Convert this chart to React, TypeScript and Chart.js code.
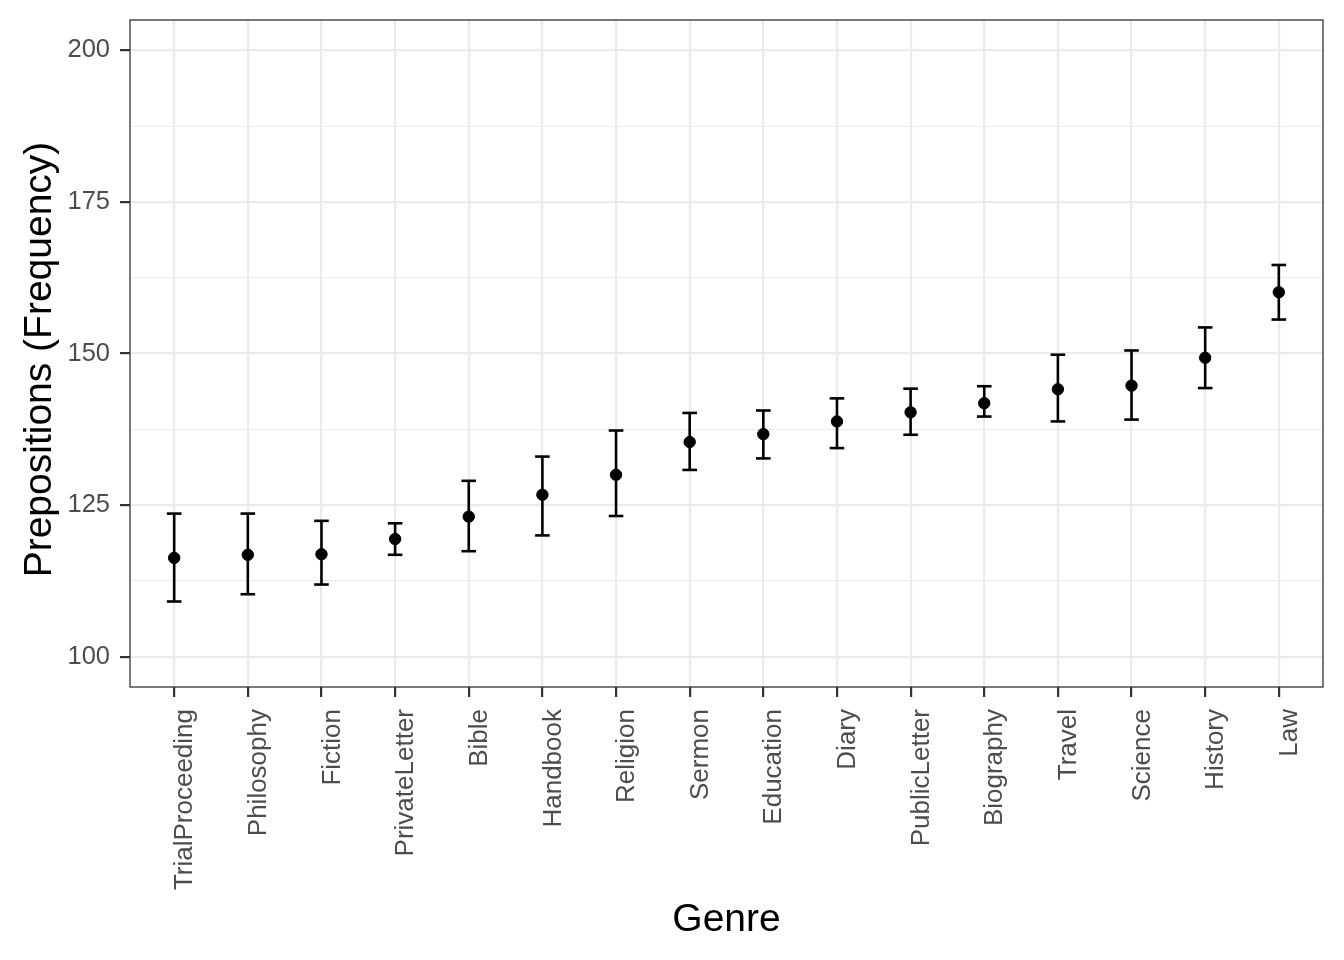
import { useEffect, useRef } from 'react';
import { Chart, registerables } from 'chart.js';

Chart.register(...registerables);

const genres = [
  'TrialProceeding', 'Philosophy', 'Fiction', 'PrivateLetter', 'Bible', 'Handbook',
  'Religion', 'Sermon', 'Education', 'Diary', 'PublicLetter', 'Biography',
  'Travel', 'Science', 'History', 'Law',
];
const means = [116.3, 116.8, 116.9, 119.4, 123.1, 126.7, 130.0, 135.4, 136.7, 138.8, 140.3, 141.8, 144.1, 144.7, 149.3, 160.1];
const lower = [109.1, 110.3, 111.9, 116.8, 117.4, 120.0, 123.2, 130.8, 132.7, 134.4, 136.6, 139.6, 138.8, 139.1, 144.3, 155.6];
const upper = [123.6, 123.6, 122.4, 122.0, 129.0, 133.0, 137.3, 140.2, 140.6, 142.6, 144.2, 144.6, 149.8, 150.5, 154.3, 164.6];
const yMajorTicks = [100, 125, 150, 175, 200];
const yMinorTicks = [112.5, 137.5, 162.5, 187.5];
const xTitle = 'Genre';
const yTitle = 'Prepositions (Frequency)';

const FONT = '"Liberation Sans", Arial, Helvetica, sans-serif';

export default function App() {
  const ref = useRef<HTMLCanvasElement | null>(null);

  useEffect(() => {
    document.body.style.margin = '0';
    const canvas = ref.current;
    if (!canvas) return;

    const isMinor = (v: number) => yMinorTicks.includes(v);

    const errData: { x: number; y: number }[] = [];
    genres.forEach((_, i) => {
      errData.push({ x: i, y: lower[i] });
      errData.push({ x: i, y: upper[i] });
      errData.push({ x: i, y: NaN });
    });
    const capData = genres.flatMap((_, i) => [
      { x: i, y: lower[i] },
      { x: i, y: upper[i] },
    ]);
    const meanData = genres.map((_, i) => ({ x: i, y: means[i] }));

    const framePlugin = {
      id: 'frameAndTitles',
      afterDraw(chart: any) {
        const { ctx, chartArea } = chart;
        ctx.save();
        ctx.strokeStyle = '#333333';
        ctx.lineWidth = 1.3;
        ctx.strokeRect(chartArea.left, chartArea.top, chartArea.right - chartArea.left, chartArea.bottom - chartArea.top);

        ctx.fillStyle = '#000000';
        ctx.font = `39px ${FONT}`;
        ctx.textAlign = 'center';
        ctx.textBaseline = 'alphabetic';
        ctx.fillText(xTitle, (chartArea.left + chartArea.right) / 2, 931);

        ctx.translate(51, (chartArea.top + chartArea.bottom) / 2 + 6);
        ctx.rotate(-Math.PI / 2);
        ctx.fillText(yTitle, 0, 0);
        ctx.restore();
      },
    };

    const chart = new Chart(canvas, {
      type: 'scatter',
      data: {
        datasets: [
          {
            type: 'line',
            data: errData,
            borderColor: '#000000',
            borderWidth: 2.6,
            pointRadius: 0,
            spanGaps: false,
            fill: false,
          } as any,
          {
            data: capData,
            pointStyle: 'line',
            pointRadius: 7.3,
            borderColor: '#000000',
            borderWidth: 2.6,
          } as any,
          {
            data: meanData,
            pointStyle: 'circle',
            pointRadius: 5.7,
            backgroundColor: '#000000',
            borderColor: '#000000',
            borderWidth: 1,
          },
        ],
      },
      options: {
        responsive: false,
        animation: false,
        devicePixelRatio: 1,
        layout: { padding: { left: 0, right: 21, top: 20, bottom: 0 } },
        plugins: {
          legend: { display: false },
          tooltip: { enabled: false },
        },
        scales: {
          x: {
            type: 'linear',
            min: -0.6,
            max: genres.length - 1 + 0.6,
            afterBuildTicks: (scale: any) => {
              scale.ticks = genres.map((_, i) => ({ value: i }));
            },
            afterFit: (scale: any) => {
              scale.height = 960 - 687;
              scale.paddingLeft = 0;
              scale.paddingRight = 0;
            },
            grid: {
              color: '#EBEBEB',
              lineWidth: 2.2,
              drawTicks: true,
              tickLength: 10,
              tickColor: '#333333',
              tickWidth: 2.2,
            },
            border: { display: false },
            ticks: {
              autoSkip: false,
              maxRotation: 90,
              minRotation: 90,
              padding: 12,
              labelOffset: 11,
              color: '#4D4D4D',
              font: { family: FONT, size: 26 },
              callback: (v: any) => genres[Number(v)] ?? '',
            },
          },
          y: {
            type: 'linear',
            min: 95,
            max: 205,
            afterBuildTicks: (scale: any) => {
              scale.ticks = [...yMajorTicks, ...yMinorTicks]
                .sort((a, b) => a - b)
                .map((v) => ({ value: v }));
            },
            afterFit: (scale: any) => {
              scale.width = 130;
              scale.paddingTop = 0;
              scale.paddingBottom = 0;
            },
            grid: {
              color: '#EBEBEB',
              lineWidth: (c: any) => (isMinor(c.tick?.value) ? 1.1 : 2.2),
              drawTicks: true,
              tickLength: 10,
              tickColor: (c: any) => (isMinor(c.tick?.value) ? 'rgba(0,0,0,0)' : '#333333'),
              tickWidth: 2.2,
            },
            border: { display: false },
            ticks: {
              padding: 10,
              color: '#4D4D4D',
              font: { family: FONT, size: 25.5 },
              callback: (v: any) => (isMinor(Number(v)) ? '' : String(v)),
            },
          },
        },
      },
      plugins: [framePlugin],
    });

    return () => chart.destroy();
  }, []);

  return (
    <div style={{ width: 1344, height: 960, background: '#ffffff' }}>
      <canvas ref={ref} width={1344} height={960} />
    </div>
  );
}
